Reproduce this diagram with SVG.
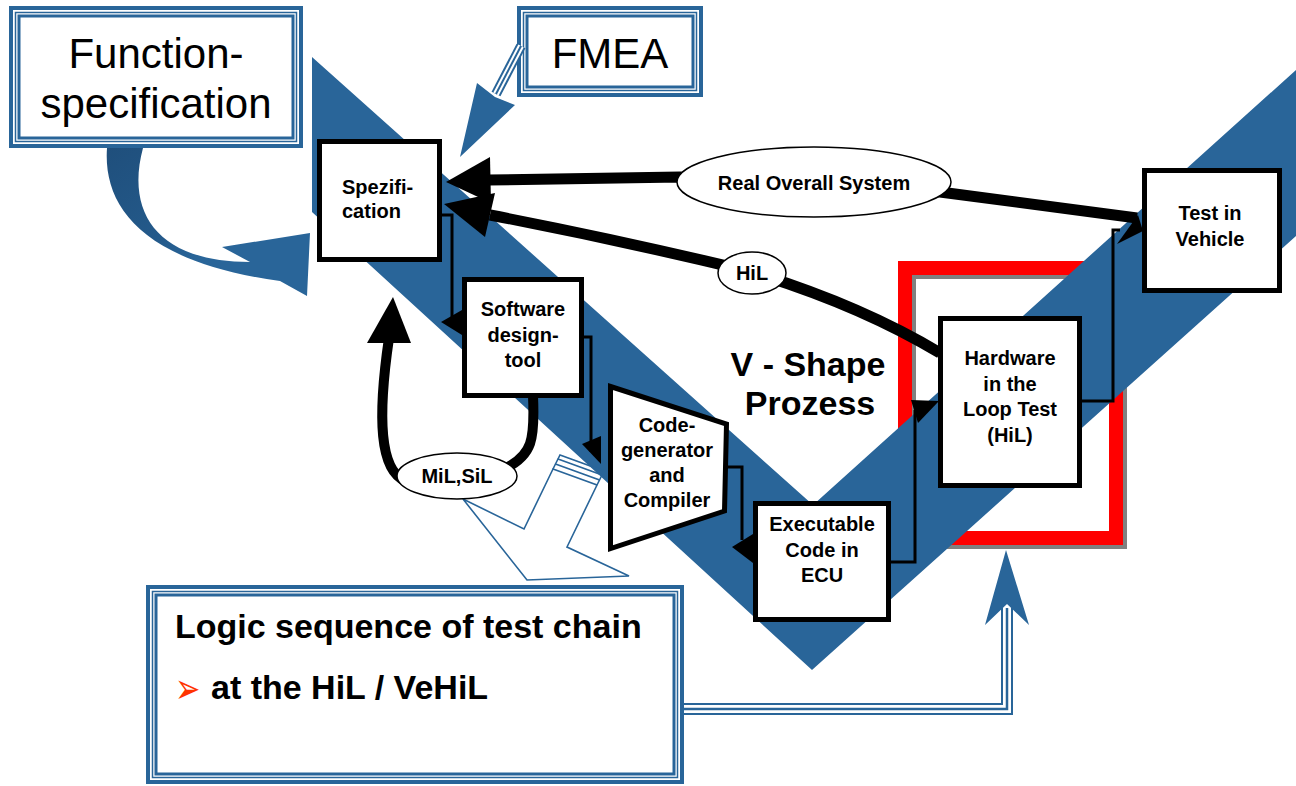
<svg xmlns="http://www.w3.org/2000/svg" width="1296" height="786" viewBox="0 0 1296 786">
<style>
.lbl{font-family:"Liberation Sans",Arial,sans-serif;font-weight:bold;font-size:20px;text-anchor:middle;fill:#000}
.big{font-family:"Liberation Sans",Arial,sans-serif;font-size:42px;text-anchor:middle;fill:#000}
.box{fill:#fff;stroke:#000;stroke-width:5}
.thin{fill:none;stroke:#000;stroke-width:3}
.thick{fill:none;stroke:#000;stroke-width:11}
.head{fill:#000}
.b1{fill:none;stroke:#296599;stroke-width:4}
.b2{fill:none;stroke:#296599;stroke-width:1.5}
.b3{fill:none;stroke:#296599;stroke-width:3}
.tri1{fill:none;stroke:#296599;stroke-width:12;stroke-linejoin:miter}
.tri2{fill:none;stroke:#fff;stroke-width:8;stroke-linejoin:miter}
.tri3{fill:none;stroke:#296599;stroke-width:2.5;stroke-linejoin:miter}
</style>
<defs>
<linearGradient id="curl" x1="0" y1="0" x2="1" y2="1">
<stop offset="0" stop-color="#1f4f7c"/>
<stop offset="0.45" stop-color="#245a8b"/>
<stop offset="0.6" stop-color="#296599"/>
<stop offset="1" stop-color="#296599"/>
</linearGradient>
</defs>
<rect width="1296" height="786" fill="#fff"/>

<g id="hil-frame">
<rect x="909" y="272" width="211" height="270" fill="none" stroke="#808080" stroke-width="14"/>
<rect x="905" y="268" width="211" height="270" fill="none" stroke="#ff0000" stroke-width="14"/>
</g>

<g id="v-shape">
<polygon points="312,57 813,505 1296,70 1296,236 812,670 312,212" fill="#296599"/>
</g>

<g id="function-spec">
<rect x="9" y="6" width="294" height="142" fill="#fff"/>
<rect class="b1" x="11" y="8" width="290" height="138"/>
<rect class="b2" x="15.5" y="12.5" width="281" height="129"/>
<rect class="b3" x="19" y="16" width="274" height="122"/>
<text class="big" x="156" y="68">Function-</text>
<text class="big" x="156" y="118">specification</text>
</g>

<g id="fmea">
<rect x="517" y="6" width="186" height="91" fill="#fff"/>
<rect class="b1" x="519" y="8" width="182" height="87"/>
<rect class="b2" x="523.5" y="12.5" width="173" height="78"/>
<rect class="b3" x="527" y="16" width="166" height="71"/>
<text class="big" x="610" y="68">FMEA</text>
</g>

<g id="logic-box">
<rect x="146" y="585" width="538" height="199" fill="#fff"/>
<rect class="b1" x="148" y="587" width="534" height="195"/>
<rect class="b2" x="152.5" y="591.5" width="525" height="186"/>
<rect class="b3" x="156" y="595" width="518" height="179"/>
<text x="175" y="638" style="font-family:'Liberation Sans',Arial,sans-serif;font-weight:bold;font-size:34px;fill:#000">Logic sequence of test chain</text>
<text transform="translate(175,703) scale(0.72,1)" style="font-family:'DejaVu Sans',sans-serif;font-size:42px;fill:#ff3300">➢</text>
<text x="211" y="699" style="font-family:'Liberation Sans',Arial,sans-serif;font-weight:bold;font-size:34px;fill:#000">at the HiL / VeHiL</text>
</g>

<g id="blue-arrows">
<path d="M107,148 C103,205 140,262 280,281 L307,296 L310,233 L222,247 L250,262 C160,262 125,215 143,148 Z" fill="url(#curl)"/>
<path class="tri1" d="M521,46 L496,94" style="stroke-width:10"/>
<path class="tri2" d="M521,46 L496,94" style="stroke-width:6"/>
<path class="tri3" d="M521,46 L496,94" style="stroke-width:2"/>
<polygon points="477,83 460,157 515,105 495,97" fill="#296599"/>
<path class="tri1" d="M684,709 H1007 V608"/>
<path class="tri2" d="M684,709 H1007 V608"/>
<path class="tri3" d="M684,709 H1007 V608"/>
<polygon points="1006,550 1029,625 1007,604 985,625" fill="#296599"/>
<polygon points="553,469 524,529 463,499 527,580 629,576 567,547 597,485" fill="#fff" stroke="#296599" stroke-width="1.6" stroke-linejoin="miter"/>
<path d="M553,469 L555.5,464 L599.5,480 L597,485 M555.5,464 L558,459 L602,475 L599.5,480 M558,459 L560,455 L604,471 L602,475" fill="none" stroke="#296599" stroke-width="1.6"/>
</g>

<g id="connectors">
<path class="thick" d="M1137,218 L940,192 L680,177 L488,180" stroke-linejoin="round"/>
<polygon class="head" points="446,182 490,157 491,203"/>
<path class="thick" d="M940,353 Q860,305 752,272 Q620,240 490,215"/>
<polygon class="head" points="444,204 495,193 485,237"/>
<path class="thick" d="M533,396 C535,440 532,455 506,468" style="stroke-width:10"/>
<path class="thick" d="M405,481 C380,470 377,420 389,338" style="stroke-width:10"/>
<polygon class="head" points="393,297 367,343 411,343"/>
<path class="thin" d="M442,215 H452 V320"/>
<polygon class="head" points="441,322 462,310 462,335"/>
<path class="thin" d="M584,337 H591 V452"/>
<polygon class="head" points="582,444 601,436 601,464"/>
<path class="thin" d="M727,467 H742 V540"/>
<polygon class="head" points="732,547 753,534 753,563"/>
<path class="thin" d="M891,562 H915 V410"/>
<polygon class="head" points="911,400 939,401 918,423"/>
<path class="thin" d="M1082,401 H1113 V230 H1120"/>
<polygon class="head" points="1117,244 1138,215 1143,231"/>
</g>

<g id="spezification">
<rect class="box" x="319.5" y="141.5" width="120" height="118"/>
<text class="lbl" x="342" y="194" style="text-anchor:start">Spezifi-</text>
<text class="lbl" x="342" y="218" style="text-anchor:start">cation</text>
</g>

<g id="software-tool">
<rect class="box" x="464.5" y="279.5" width="117" height="116"/>
<text class="lbl" x="523" y="316">Software</text>
<text class="lbl" x="523" y="342">design-</text>
<text class="lbl" x="523" y="367">tool</text>
</g>

<g id="code-generator">
<polygon class="box" points="610.5,386.5 726.5,424 724.5,511 610.5,548.5"/>
<text class="lbl" x="667" y="432">Code-</text>
<text class="lbl" x="667" y="457">generator</text>
<text class="lbl" x="667" y="482">and</text>
<text class="lbl" x="667" y="507">Compiler</text>
</g>

<g id="ecu">
<rect class="box" x="755.5" y="503.5" width="133" height="116"/>
<text class="lbl" x="822" y="531">Executable</text>
<text class="lbl" x="822" y="557">Code in</text>
<text class="lbl" x="822" y="582">ECU</text>
</g>

<g id="hil-box">
<rect class="box" x="940.5" y="318.5" width="139" height="167"/>
<text class="lbl" x="1010" y="365">Hardware</text>
<text class="lbl" x="1010" y="391">in the</text>
<text class="lbl" x="1010" y="416">Loop Test</text>
<text class="lbl" x="1010" y="442">(HiL)</text>
</g>

<g id="test-vehicle">
<rect class="box" x="1144.5" y="170.5" width="135" height="120"/>
<text class="lbl" x="1210" y="220">Test in</text>
<text class="lbl" x="1210" y="246">Vehicle</text>
</g>

<g id="real-overall">
<ellipse cx="814" cy="182" rx="137" ry="35" fill="#fff" stroke="#000" stroke-width="1.5"/>
<text class="lbl" x="814" y="190">Real Overall System</text>
</g>

<g id="hil-ellipse">
<ellipse cx="752" cy="273" rx="34" ry="21" fill="#fff" stroke="#000" stroke-width="1.5"/>
<text class="lbl" x="752" y="280">HiL</text>
</g>

<g id="mil-sil">
<ellipse cx="457" cy="476" rx="60" ry="23" fill="#fff" stroke="#000" stroke-width="1.5"/>
<text class="lbl" x="457" y="483">MiL,SiL</text>
</g>

<g id="v-label">
<text class="lbl" x="808" y="376" style="font-size:34px">V - Shape</text>
<text class="lbl" x="810" y="415" style="font-size:34px">Prozess</text>
</g>
</svg>
